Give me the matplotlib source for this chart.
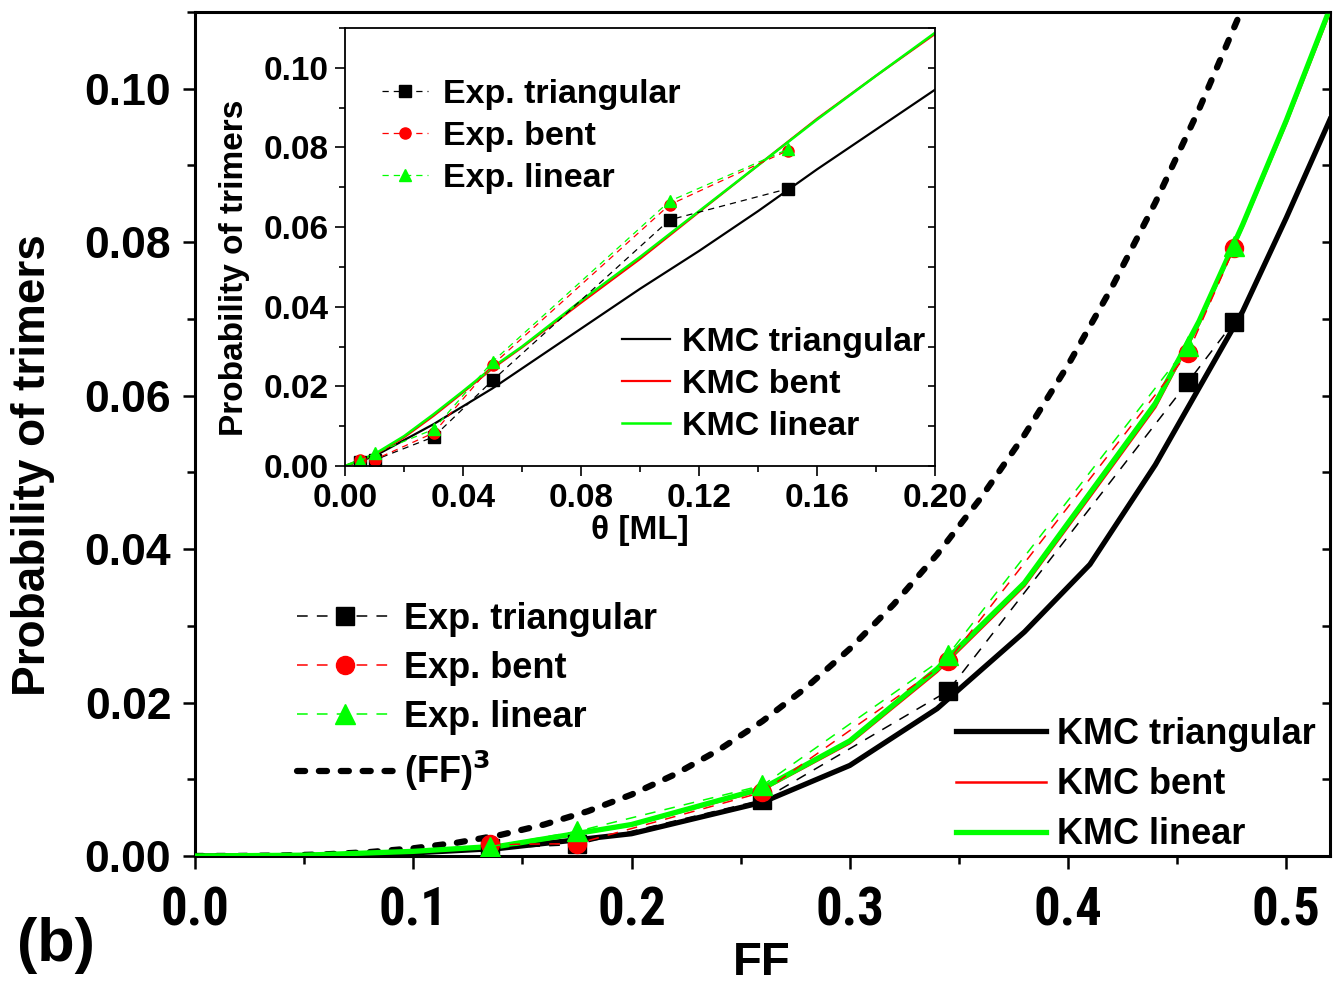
import matplotlib
matplotlib.use('Agg')
import matplotlib.pyplot as plt
from matplotlib import font_manager
from matplotlib.ticker import MultipleLocator

# --- data ---
# experimental points (same probabilities, plotted vs FF and vs coverage)
ff_exp = [0.135, 0.175, 0.26, 0.345, 0.455, 0.476]
theta_exp = [0.005, 0.01, 0.03, 0.05, 0.11, 0.15]
p_exp_tri = [0.0010, 0.0015, 0.0073, 0.0215, 0.0618, 0.0696]
p_exp_bent = [0.0015, 0.0016, 0.0083, 0.0254, 0.0656, 0.0792]
p_exp_lin = [0.0012, 0.0032, 0.0092, 0.0262, 0.0665, 0.0795]

# KMC curves, main panel
ff_kmc = [0, 0.05, 0.10, 0.14, 0.20, 0.26, 0.30, 0.34, 0.38, 0.41, 0.44, 0.46, 0.48, 0.50, 0.52]
p_kmc_tri = [0, 0.00005, 0.0004, 0.0010, 0.0029, 0.0070, 0.0118, 0.0192, 0.0292, 0.0380, 0.0510, 0.0610, 0.0710, 0.0832, 0.0960]
p_kmc_bent = [0, 0.0001, 0.0006, 0.0013, 0.0040, 0.0086, 0.0147, 0.0240, 0.0352, 0.0468, 0.0585, 0.0693, 0.0820, 0.0955, 0.1100]
p_kmc_lin = [0, 0.0001, 0.0006, 0.0013, 0.0041, 0.0088, 0.0150, 0.0244, 0.0356, 0.0473, 0.0590, 0.0697, 0.0823, 0.0959, 0.1105]

# (FF)^3 reference curve
ff_cube = [0, 0.02, 0.04, 0.06, 0.08, 0.10, 0.12, 0.14, 0.16, 0.18, 0.20, 0.22, 0.24,
           0.26, 0.28, 0.30, 0.32, 0.34, 0.36, 0.38, 0.40, 0.42, 0.44, 0.46, 0.48, 0.50]
p_cube = [0, 0.000008, 0.000064, 0.000216, 0.000512, 0.001, 0.001728, 0.002744, 0.004096,
          0.005832, 0.008, 0.010648, 0.013824, 0.017576, 0.021952, 0.027, 0.032768, 0.039304,
          0.046656, 0.054872, 0.064, 0.074088, 0.085184, 0.097336, 0.110592, 0.125]

# KMC curves, inset (vs coverage)
theta_kmc = [0, 0.01, 0.02, 0.03, 0.04, 0.05, 0.06, 0.08, 0.10, 0.12, 0.14, 0.16, 0.18, 0.20]
pi_kmc_tri = [0, 0.0025, 0.0065, 0.0105, 0.0150, 0.0195, 0.0245, 0.0345, 0.0445, 0.0540, 0.0640, 0.0745, 0.0845, 0.0945]
pi_kmc_bent = [0, 0.0028, 0.0072, 0.0126, 0.0185, 0.0245, 0.0298, 0.0410, 0.0520, 0.0638, 0.0755, 0.0872, 0.0980, 0.1085]
pi_kmc_lin = [0, 0.0030, 0.0075, 0.0130, 0.0188, 0.0248, 0.0300, 0.0415, 0.0525, 0.0640, 0.0755, 0.0870, 0.0980, 0.1088]

RED = '#ff0000'
GREEN = '#00ff00'

plt.rcParams['font.family'] = ['Liberation Sans', 'DejaVu Sans']
plt.rcParams['font.weight'] = 'bold'

# a condensed face for the FF tick labels, if one is installed
names = {f.name for f in font_manager.fontManager.ttflist}
narrow, xt_size = 'Liberation Sans', 33
for cand in ['Liberation Sans Narrow', 'DejaVu Sans Condensed', 'Roboto Condensed']:
    if cand in names:
        narrow, xt_size = cand, 38
        break

fig = plt.figure(figsize=(13.39, 9.85), dpi=100)
ax = fig.add_axes([0.1456, 0.131, 0.8477, 0.8568])

# main panel
l_tri, = ax.plot(ff_kmc, p_kmc_tri, color='black', lw=3.8, zorder=3)
l_bent, = ax.plot(ff_kmc, p_kmc_bent, color=RED, lw=1.8, zorder=3)
l_lin, = ax.plot(ff_kmc, p_kmc_lin, color=GREEN, lw=3.8, zorder=3.5)
l_cube, = ax.plot(ff_cube, p_cube, color='black', lw=4.5, dashes=(1.3, 2.2),
                  dash_capstyle='round', zorder=2)

e_tri, = ax.plot(ff_exp, p_exp_tri, color='black', lw=1.1, dashes=(7, 6),
                 marker='s', ms=13, zorder=4)
e_bent, = ax.plot(ff_exp, p_exp_bent, color=RED, lw=1.1, dashes=(7, 6),
                  marker='o', ms=13, zorder=4)
e_lin, = ax.plot(ff_exp, p_exp_lin, color=GREEN, lw=1.1, dashes=(7, 6),
                 marker='^', ms=14, zorder=4)

ax.set_xlim(0, 0.52)
ax.set_ylim(0, 0.11)
ax.xaxis.set_major_locator(MultipleLocator(0.1))
ax.xaxis.set_minor_locator(MultipleLocator(0.05))
ax.yaxis.set_major_locator(MultipleLocator(0.02))
ax.yaxis.set_minor_locator(MultipleLocator(0.01))
ax.xaxis.set_major_formatter(lambda v, p: f'{v:.1f}')
ax.yaxis.set_major_formatter(lambda v, p: f'{v:.2f}')
ax.tick_params(which='both', direction='out', width=1.8, top=False, right=False)
ax.tick_params(which='major', length=9)
ax.tick_params(which='minor', length=6)
ax.tick_params(axis='y', labelsize=32, pad=8)
ax.tick_params(axis='x', labelsize=xt_size, pad=12)
for t in ax.get_xticklabels():
    t.set_family(narrow)
for s in ax.spines.values():
    s.set_linewidth(2.2)

# inward ticks on the right side
ax_r = ax.twinx()
ax_r.set_ylim(0, 0.11)
ax_r.yaxis.set_major_locator(MultipleLocator(0.01))
ax_r.tick_params(direction='in', length=6, width=1.8, labelright=False)
for s in ax_r.spines.values():
    s.set_visible(False)

leg1 = ax.legend([e_tri, e_bent, e_lin, l_cube],
                 ['Exp. triangular', 'Exp. bent', 'Exp. linear', '(FF)$^{\\mathbf{3}}$'],
                 loc='upper left', bbox_to_anchor=(0.222, 0.389), bbox_transform=fig.transFigure,
                 frameon=False, fontsize=26, handlelength=2.65, handletextpad=0.3,
                 labelspacing=0.39, borderpad=0, borderaxespad=0, numpoints=1)
ax.add_artist(leg1)
ax.legend([l_tri, l_bent, l_lin], ['KMC triangular', 'KMC bent', 'KMC linear'],
          loc='upper left', bbox_to_anchor=(0.714, 0.272), bbox_transform=fig.transFigure,
          frameon=False, fontsize=26, handlelength=2.5, handletextpad=0.3,
          labelspacing=0.42, borderpad=0, borderaxespad=0)

fig.text(33 / 1339, 1 - 465 / 985, 'Probability of trimers', rotation=90,
         ha='center', va='center', fontsize=33, fontweight='bold')
fig.text(762 / 1339, 1 - 975 / 985, 'FF', ha='center', va='baseline', fontsize=34, fontweight='bold')
fig.text(56 / 1339, 1 - 945 / 985, '(b)', ha='center', va='center', fontsize=44, fontweight='bold')

# inset
ins = fig.add_axes([0.2577, 0.5269, 0.4406, 0.4447])
il_tri, = ins.plot(theta_kmc, pi_kmc_tri, color='black', lw=1.6)
il_bent, = ins.plot(theta_kmc, pi_kmc_bent, color=RED, lw=1.6)
il_lin, = ins.plot(theta_kmc, pi_kmc_lin, color=GREEN, lw=1.8)
ie_tri, = ins.plot(theta_exp, p_exp_tri, color='black', lw=0.9, dashes=(5, 4),
                   marker='s', ms=8)
ie_bent, = ins.plot(theta_exp, p_exp_bent, color=RED, lw=0.9, dashes=(5, 4),
                    marker='o', ms=8)
ie_lin, = ins.plot(theta_exp, p_exp_lin, color=GREEN, lw=0.9, dashes=(5, 4),
                   marker='^', ms=9)

ins.set_xlim(0, 0.2)
ins.set_ylim(0, 0.11)
ins.xaxis.set_major_locator(MultipleLocator(0.04))
ins.xaxis.set_minor_locator(MultipleLocator(0.02))
ins.yaxis.set_major_locator(MultipleLocator(0.02))
ins.yaxis.set_minor_locator(MultipleLocator(0.01))
ins.xaxis.set_major_formatter(lambda v, p: f'{v:.2f}')
ins.yaxis.set_major_formatter(lambda v, p: f'{v:.2f}')
ins.tick_params(which='both', direction='out', width=1.2, labelsize=24, pad=5)
ins.tick_params(which='major', length=7)
ins.tick_params(which='minor', length=4)
for s in ins.spines.values():
    s.set_linewidth(1.3)
ins_r = ins.twinx()
ins_r.set_ylim(0, 0.11)
ins_r.yaxis.set_major_locator(MultipleLocator(0.01))
ins_r.tick_params(direction='in', length=5, width=1.2, labelright=False)
for s in ins_r.spines.values():
    s.set_visible(False)

leg3 = ins.legend([ie_tri, ie_bent, ie_lin], ['Exp. triangular', 'Exp. bent', 'Exp. linear'],
                  loc='upper left', bbox_to_anchor=(0.285, 0.920), bbox_transform=fig.transFigure,
                  frameon=False, fontsize=24.5, handlelength=1.35, handletextpad=0.45,
                  labelspacing=0.32, borderpad=0, borderaxespad=0, numpoints=1)
ins.add_artist(leg3)
ins.legend([il_tri, il_bent, il_lin], ['KMC triangular', 'KMC bent', 'KMC linear'],
           loc='upper left', bbox_to_anchor=(0.4645, 0.668), bbox_transform=fig.transFigure,
           frameon=False, fontsize=24.5, handlelength=1.4, handletextpad=0.35,
           labelspacing=0.32, borderpad=0, borderaxespad=0)

fig.text(640 / 1339, 1 - 530 / 985, 'θ [ML]', ha='center', va='center', fontsize=24, fontweight='bold')
fig.text(235 / 1339, 1 - 268 / 985, 'Probability of trimers', rotation=90,
         ha='center', va='center', fontsize=24, fontweight='bold')

plt.savefig('out.png', dpi=100)
plt.close()
